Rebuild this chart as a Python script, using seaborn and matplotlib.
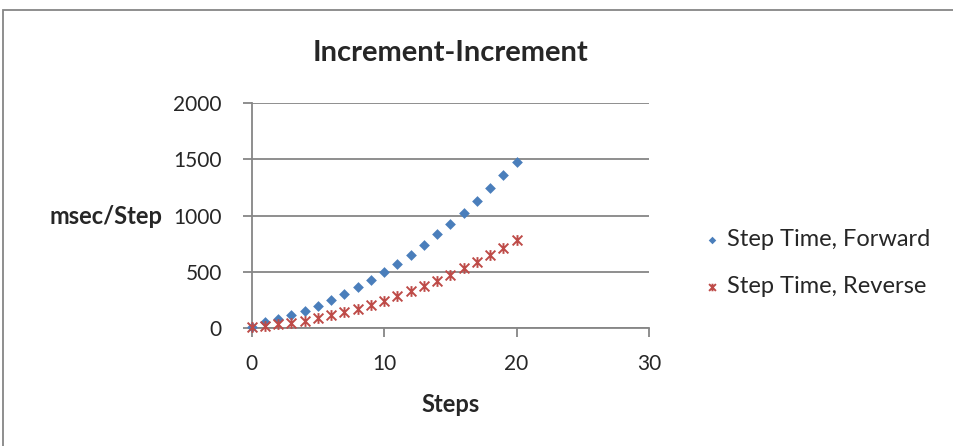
import matplotlib
matplotlib.use("Agg")
import matplotlib.pyplot as plt
import matplotlib.patches as patches
from matplotlib.path import Path
import seaborn as sns
import pandas as pd

# Werte
steps = list(range(21))
forward = [15, 54, 83, 116, 155, 202, 247, 307, 366, 432, 497,
           574, 652, 738, 836, 926, 1027, 1134, 1244, 1360, 1479]
reverse = [9, 21, 39, 51, 68, 89, 122, 143, 170, 208, 244,
           289, 330, 378, 423, 470, 536, 589, 649, 714, 783]
series_names = ["Step Time, Forward", "Step Time, Reverse"]
x_ticks = [0, 10, 20, 30]
y_ticks = [0, 500, 1000, 1500, 2000]

df = pd.DataFrame({
    "Steps": steps * 2,
    "msec/Step": forward + reverse,
    "Series": [series_names[0]] * len(steps) + [series_names[1]] * len(steps),
})

sns.set_style("white")
plt.rcParams['font.family'] = ['Lato', 'DejaVu Sans']

grey = "#868686"
blue = "#4A7EBB"
red = "#BE4B48"

# Stern-Marker wie in Excel: X plus senkrechter Strich
star_path = Path(
    [(-1, -1), (1, 1), (-1, 1), (1, -1), (0, -1.1), (0, 1.1)],
    [Path.MOVETO, Path.LINETO, Path.MOVETO, Path.LINETO,
     Path.MOVETO, Path.LINETO])

fig = plt.figure(figsize=(9.54, 4.46), dpi=100)
ax = fig.add_axes([0.2638, 0.2639, 0.4165, 0.5051])

sns.scatterplot(data=df[df["Series"] == series_names[0]], x="Steps",
                y="msec/Step", marker="D", s=30, color=blue, linewidth=0,
                label=series_names[0], ax=ax, clip_on=False, zorder=3)
sns.scatterplot(data=df[df["Series"] == series_names[1]], x="Steps",
                y="msec/Step", marker=star_path, s=60, color=red,
                edgecolor=red, linewidth=1.4, label=series_names[1], ax=ax,
                clip_on=False, zorder=4)

ax.set_xlim(0, 30)
ax.set_ylim(0, 2000)
ax.set_xticks(x_ticks)
ax.set_yticks(y_ticks)
ax.yaxis.grid(True, color=grey, linewidth=1.3)
ax.set_axisbelow(True)
for side in ["top", "right"]:
    ax.spines[side].set_visible(False)
for side in ["left", "bottom"]:
    ax.spines[side].set_color(grey)
    ax.spines[side].set_linewidth(1.3)
ax.tick_params(axis="both", direction="out", length=6.5, width=1.3,
               color=grey, labelsize=15, left=True, bottom=True)
ax.tick_params(axis="y", pad=15)
ax.tick_params(axis="x", pad=12)

ax.set_title("Increment-Increment", fontsize=21, fontweight="bold", pad=30)
ax.set_xlabel("Steps", fontsize=17, fontweight="bold", labelpad=14)
ax.set_ylabel("msec/Step", fontsize=17, fontweight="bold", rotation=0,
              ha="right", va="center", labelpad=12)
ax.yaxis.set_label_coords(-0.225, 0.496)

leg = ax.legend(loc="center left", bbox_to_anchor=(1.075, 0.29), frameon=False,
                fontsize=17, labelspacing=1.1, handletextpad=0.15,
                markerscale=0.7, handlelength=1.0)

# Rahmen des Diagrammbereichs
fig.patches.append(patches.Rectangle((3 / 954, -0.1), 1.2, 1.1 - 10 / 446,
                                     transform=fig.transFigure, fill=False,
                                     edgecolor=grey, linewidth=1.3))

plt.savefig("out.png", dpi=100)
